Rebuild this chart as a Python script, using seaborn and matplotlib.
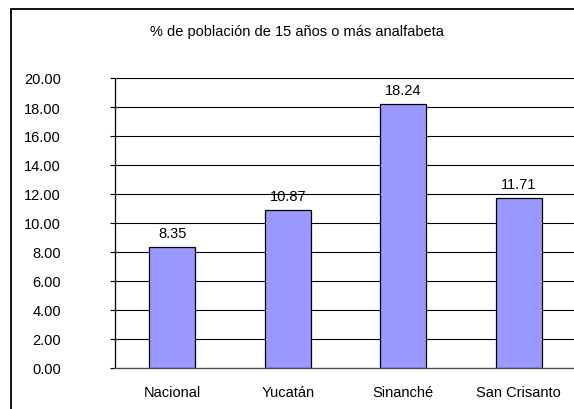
"""Bar chart: % de población de 15 años o más analfabeta."""

import numpy as np
import pandas as pd

import matplotlib
matplotlib.use("Agg")
import matplotlib.pyplot as plt
import matplotlib.patches as mpatches
import seaborn as sns

# Data
lugares = ["Nacional", "Yucatán", "Sinanché", "San Crisanto"]
porcentajes = [8.35, 10.87, 18.24, 11.71]
titulo = "% de población de 15 años o más analfabeta"
y_ticks = np.arange(0, 21, 2)


def _setup_style():
    sns.set_style("white")
    plt.rcParams["font.family"] = ["Liberation Sans", "DejaVu Sans"]
    plt.rcParams.update({
        "font.size": 10.5,
        "xtick.labelsize": 10.5,
        "ytick.labelsize": 10.5,
        "text.color": "black",
        "xtick.color": "black",
        "ytick.color": "black",
    })


def main():
    _setup_style()
    df = pd.DataFrame({"lugar": lugares, "pct": porcentajes})

    fig = plt.figure(figsize=(5.74, 4.10), dpi=100)
    ax = fig.add_axes([114.5 / 574, 41 / 410, 462 / 574, 290 / 410])

    sns.barplot(
        data=df, x="lugar", y="pct", order=lugares,
        color="#9999FF", edgecolor="black", linewidth=0.9,
        width=0.4, saturation=1, ax=ax,
    )

    ax.set_ylim(0, 20)
    ax.set_xlim(-0.5, len(lugares) - 0.5)
    ax.set_yticks(y_ticks)
    ax.set_yticklabels([f"{v:.2f}" for v in y_ticks])
    ax.yaxis.grid(True, color="black", linewidth=0.8)
    ax.xaxis.grid(False)
    ax.set_axisbelow(True)
    ax.set_xlabel("")
    ax.set_ylabel("")

    # category labels at centres, small ticks at boundaries
    ax.tick_params(axis="x", which="major", length=0, pad=12)
    ax.set_xticks(np.arange(-0.5, len(lugares), 1.0), minor=True)
    ax.tick_params(axis="x", which="minor", length=3.5, width=0.8,
                   color="black", direction="out")
    ax.tick_params(axis="y", length=3.5, width=0.8, color="black",
                   direction="out", pad=35, left=True)

    for side in ["top", "right"]:
        ax.spines[side].set_visible(False)
    ax.spines["left"].set_color("black")
    ax.spines["left"].set_linewidth(0.9)
    ax.spines["bottom"].set_color("#444444")
    ax.spines["bottom"].set_linewidth(0.9)

    for container in ax.containers:
        ax.bar_label(container, fmt="%.2f", padding=5, fontsize=10.5)

    fig.text(297 / 574, 1 - 32 / 410, titulo, ha="center", va="center", fontsize=10.5)

    # outer chart border
    fig.patches.append(mpatches.Rectangle(
        (11 / 574, -0.1), 1.2, 1.1 - 10 / 410,
        transform=fig.transFigure, fill=False,
        edgecolor="black", linewidth=1.3,
    ))

    fig.savefig("out.png", dpi=100)
    plt.close(fig)


if __name__ == "__main__":
    main()
